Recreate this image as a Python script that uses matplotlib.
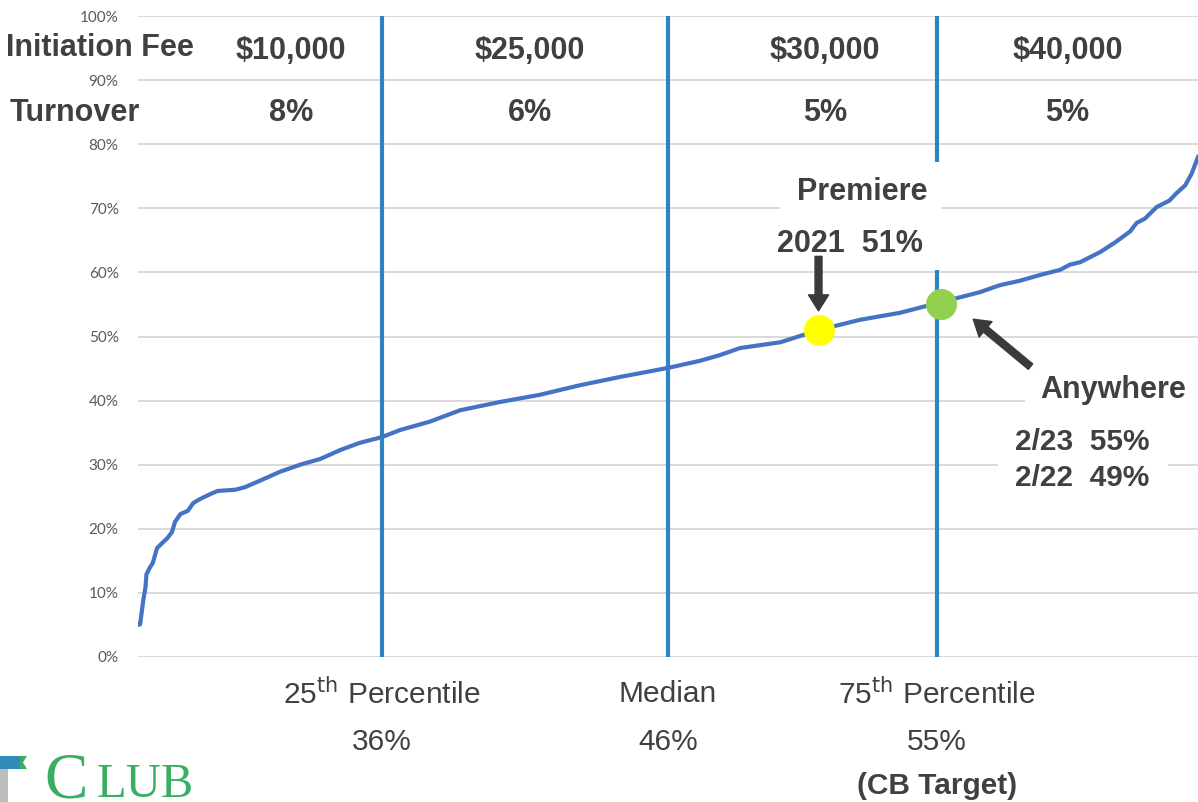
import matplotlib
matplotlib.use("Agg")
import matplotlib.pyplot as plt
from matplotlib.patches import Rectangle, Polygon
from matplotlib.ticker import PercentFormatter

# Club rank position (0 = lowest, 100 = highest) and the membership share at that rank (%)
rank = [0.0, 0.2, 0.5, 0.7, 0.8, 1.1, 1.4, 1.8, 2.3, 2.8, 3.2, 3.5, 4.0, 4.7, 5.2,
        5.8, 6.8, 7.5, 9.2, 10.1, 11.5, 13.4, 15.3, 17.2, 19.1, 20.9, 23.0, 24.7,
        27.5, 30.4, 34.2, 37.9, 41.7, 45.5, 50.0, 53.0, 54.9, 56.8, 60.6, 64.2,
        68.1, 71.9, 75.4, 77.5, 79.4, 81.3, 83.2, 85.1, 87.0, 87.9, 88.9, 90.8,
        92.2, 93.6, 94.2, 95.0, 96.1, 97.3, 98.0, 98.8, 99.4, 100.0]
share = [5.0, 5.1, 8.9, 10.8, 12.9, 13.9, 14.7, 17.0, 17.8, 18.6, 19.5, 21.1, 22.3,
         22.8, 24.0, 24.6, 25.4, 25.9, 26.1, 26.5, 27.5, 28.9, 30.0, 30.9, 32.3,
         33.4, 34.3, 35.4, 36.7, 38.5, 39.8, 40.9, 42.4, 43.7, 45.1, 46.2, 47.1,
         48.2, 49.1, 51.0, 52.6, 53.7, 55.2, 56.1, 56.9, 58.0, 58.7, 59.6, 60.4,
         61.2, 61.6, 63.2, 64.7, 66.4, 67.7, 68.4, 70.2, 71.2, 72.4, 73.6, 75.4,
         78.0]

# Percentile dividers
divider_rank = [23.0, 50.0, 75.4]
bottom_labels = [("25$^{\\mathrm{th}}$ Percentile", "36%"),
                 ("Median", "46%"),
                 ("75$^{\\mathrm{th}}$ Percentile", "55%")]

# Fee / turnover bands between the dividers
fee_labels = ["$10,000", "$25,000", "$30,000", "$40,000"]
turnover_labels = ["8%", "6%", "5%", "5%"]
band_centers = [14.4, 37.0, 64.8, 87.7]

# Highlighted clubs
premiere_rank, premiere_share = 64.2, 51
anywhere_rank, anywhere_share = 75.8, 55

W, H = 1198, 802
fig = plt.figure(figsize=(W / 100, H / 100), dpi=100)
ax = fig.add_axes([138 / W, 1 - 657 / H, 1 - 138 / W, (657 - 16) / H])
ax.set_xlim(0, 100)
ax.set_ylim(0, 100)

for s in ax.spines.values():
    s.set_visible(False)
ax.set_xticks([])
ax.set_yticks(range(0, 101, 10))
ax.yaxis.set_major_formatter(PercentFormatter(decimals=0))
ax.tick_params(axis="y", length=0, pad=14, labelsize=11, labelcolor="#595959")
for lab in ax.get_yticklabels():
    lab.set_family("Lato")
ax.grid(axis="y", color="#d9d9d9", lw=1.4, zorder=0)
ax.set_axisbelow(True)

DARK = "#404040"
BLUE = "#2a84c6"

for xr in divider_rank:
    ax.plot([xr, xr], [0, 100], color=BLUE, lw=3.0, zorder=2, solid_capstyle="butt")

# white backing for the callout text
ax.add_patch(Rectangle((60.6, 60.4), 15.2, 16.9, facecolor="white", edgecolor="none", zorder=2.5))
ax.add_patch(Rectangle((83.7, 38.5), 16.5, 6.8, facecolor="white", edgecolor="none", zorder=2.5, clip_on=False))
ax.add_patch(Rectangle((81.1, 25.0), 16.1, 7.8, facecolor="white", edgecolor="none", zorder=2.5))

ax.plot(rank, share, color="#4472c4", lw=3.0, zorder=3, solid_joinstyle="round")

ax.scatter([premiere_rank], [premiere_share], s=500, color="#ffff00", zorder=4, linewidths=0)
ax.scatter([anywhere_rank], [anywhere_share], s=500, color="#92d050", zorder=4, linewidths=0)

arrow = dict(arrowstyle="simple,head_length=1.15,head_width=1.45,tail_width=0.5",
             mutation_scale=10, color="#3a3a3a", shrinkA=0, shrinkB=0)
ax.annotate("", xy=(premiere_rank, 54.0), xytext=(premiere_rank, 62.5),
            arrowprops=arrow, zorder=5)
ax.annotate("", xy=(78.8, 52.7), xytext=(84.2, 45.3),
            arrowprops=arrow, zorder=5)

bold = dict(family="Liberation Sans", weight="bold", color=DARK, ha="center", va="center",
            zorder=6, clip_on=False)
ax.text(68.3, 72.5, "Premiere", fontsize=22, **bold)
ax.text(67.2, 64.5, "2021  51%", fontsize=22, **bold)
ax.text(92.0, 41.6, "Anywhere", fontsize=22, **bold)
ax.text(89.1, 33.6, "2/23  55%", fontsize=21.5, **bold)
ax.text(89.1, 28.0, "2/22  49%", fontsize=21.5, **bold)

# header rows
ax.text(-3.6, 95.0, "Initiation Fee", fontsize=22, **bold)
ax.text(-6.0, 84.8, "Turnover", fontsize=22, **bold)
for xc, fee, turn in zip(band_centers, fee_labels, turnover_labels):
    ax.text(xc, 94.6, fee, fontsize=22, **bold)
    ax.text(xc, 84.8, turn, fontsize=22, **bold)

reg = dict(family="Liberation Sans", color=DARK, ha="center", va="center", clip_on=False)
for xr, (name, val) in zip(divider_rank, bottom_labels):
    ax.text(xr, -5.8, name, fontsize=21.5, **reg)
    ax.text(xr, -13.3, val, fontsize=21.5, **reg)
ax.text(divider_rank[2], -20.2, "(CB Target)", fontsize=21.5,
        family="Liberation Sans", weight="bold", color=DARK, ha="center", va="center",
        clip_on=False)

# logo in the lower-left corner
GREEN = "#3aae62"
fig.text(44 / W, 1 - 797 / H, "C", fontsize=47, family="Liberation Serif", color=GREEN,
         ha="left", va="baseline")
fig.text(97 / W, 1 - 797 / H, "LUB", fontsize=35, family="Liberation Serif", color=GREEN,
         ha="left", va="baseline")
logo = fig.add_axes([0, 0, 40 / W, 50 / H])
logo.set_xlim(0, 40)
logo.set_ylim(0, 50)
logo.axis("off")
logo.add_patch(Rectangle((0, 0), 8, 38, facecolor="#bdbdbd", edgecolor="none"))
logo.add_patch(Rectangle((0, 33), 20, 13, facecolor="#2f8cb6", edgecolor="none"))
logo.add_patch(Polygon([(20, 33), (27, 33), (23, 39.5), (27, 46), (20, 46)],
                       closed=True, facecolor="#3aae62", edgecolor="none"))

fig.savefig("out.png", dpi=100, facecolor="white")
